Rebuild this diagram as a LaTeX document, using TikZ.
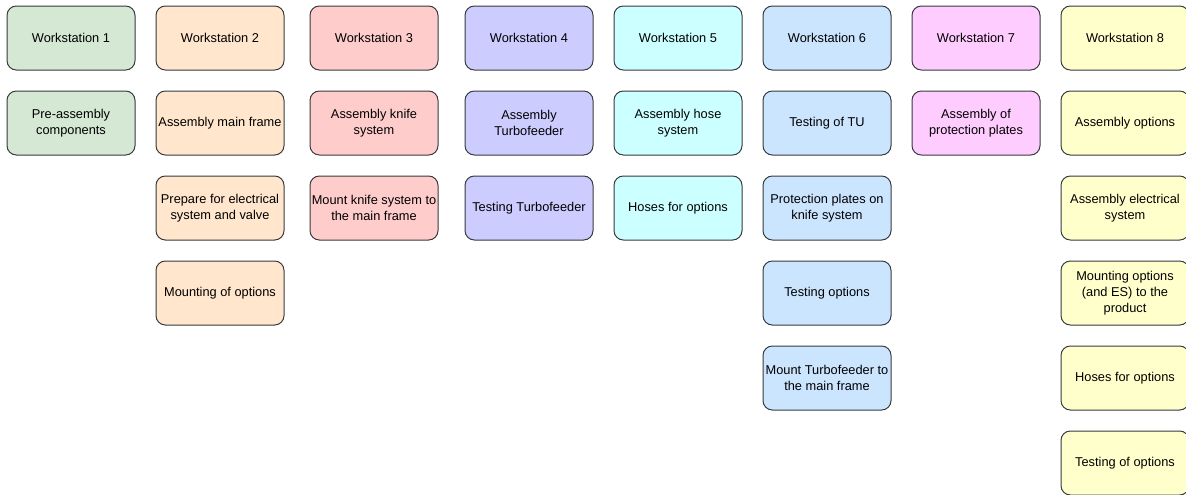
\documentclass[tikz,border=0pt]{standalone}
\usepackage{fontspec}
\setmainfont{Liberation Sans}
\definecolor{bordc}{HTML}{36393D}
\definecolor{cA}{HTML}{D5E8D4}
\definecolor{cB}{HTML}{FFE6CC}
\definecolor{cC}{HTML}{FFCCCC}
\definecolor{cD}{HTML}{CCCCFF}
\definecolor{cE}{HTML}{CCFFFF}
\definecolor{cF}{HTML}{CCE5FF}
\definecolor{cG}{HTML}{FFCCFF}
\definecolor{cH}{HTML}{FFFFCC}
\tikzset{
  wsbox/.style={draw=bordc, line width=0.75pt, rounded corners=7pt, minimum width=96pt, minimum height=48pt, align=center, font=\fontsize{9.6}{12}\selectfont, inner sep=1pt}
}
\begin{document}
\begin{tikzpicture}[x=0.75pt,y=-0.75pt]
\useasboundingbox (0,0) rectangle (1186,494);
% column 1
\node[wsbox, fill=cA] (w1) at (71,38) {Workstation 1};
\node[wsbox, fill=cA] (w1a) at (71,123) {Pre-assembly\\components};
% column 2
\node[wsbox, fill=cB] (w2) at (220,38) {Workstation 2};
\node[wsbox, fill=cB] (w2a) at (220,123) {Assembly main frame};
\node[wsbox, fill=cB] (w2b) at (220,208) {Prepare for electrical\\system and valve};
\node[wsbox, fill=cB] (w2c) at (220,293) {Mounting of options};
% column 3
\node[wsbox, fill=cC] (w3) at (374,38) {Workstation 3};
\node[wsbox, fill=cC] (w3a) at (374,123) {Assembly knife\\system};
\node[wsbox, fill=cC] (w3b) at (374,208) {Mount knife system to\\the main frame};
% column 4
\node[wsbox, fill=cD] (w4) at (529,38) {Workstation 4};
\node[wsbox, fill=cD] (w4a) at (529,123) {Assembly\\Turbofeeder};
\node[wsbox, fill=cD] (w4b) at (529,208) {Testing Turbofeeder};
% column 5
\node[wsbox, fill=cE] (w5) at (678,38) {Workstation 5};
\node[wsbox, fill=cE] (w5a) at (678,123) {Assembly hose\\system};
\node[wsbox, fill=cE] (w5b) at (678,208) {Hoses for options};
% column 6
\node[wsbox, fill=cF] (w6) at (827,38) {Workstation 6};
\node[wsbox, fill=cF] (w6a) at (827,123) {Testing of TU};
\node[wsbox, fill=cF] (w6b) at (827,208) {Protection plates on\\knife system};
\node[wsbox, fill=cF] (w6c) at (827,293) {Testing options};
\node[wsbox, fill=cF] (w6d) at (827,378) {Mount Turbofeeder to\\the main frame};
% column 7
\node[wsbox, fill=cG] (w7) at (976,38) {Workstation 7};
\node[wsbox, fill=cG] (w7a) at (976,123) {Assembly of\\protection plates};
% column 8
\node[wsbox, fill=cH] (w8) at (1125,38) {Workstation 8};
\node[wsbox, fill=cH] (w8a) at (1125,123) {Assembly options};
\node[wsbox, fill=cH] (w8b) at (1125,208) {Assembly electrical\\system};
\node[wsbox, fill=cH] (w8c) at (1125,293) {Mounting options\\(and ES) to the\\product};
\node[wsbox, fill=cH] (w8d) at (1125,378) {Hoses for options};
\node[wsbox, fill=cH] (w8e) at (1125,463) {Testing of options};
\end{tikzpicture}
\end{document}
